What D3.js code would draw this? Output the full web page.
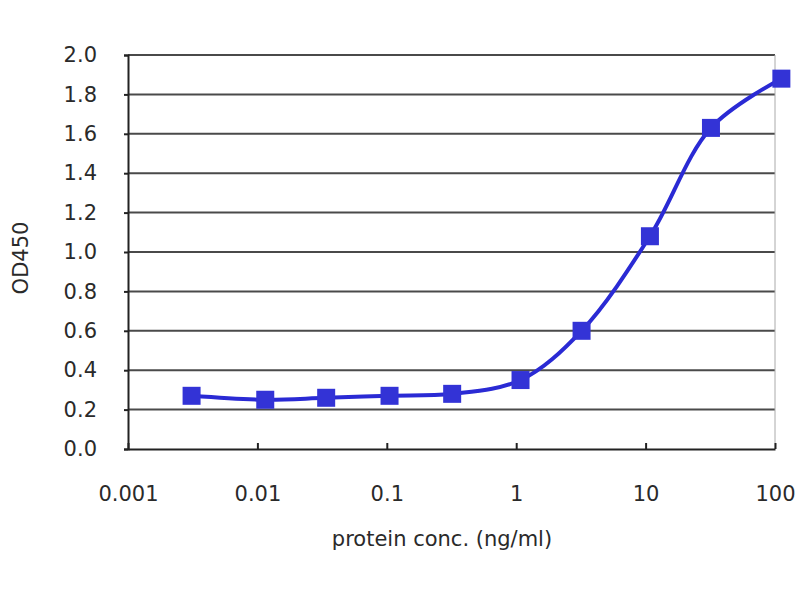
<!DOCTYPE html>
<html>
<head>
<meta charset="utf-8">
<script src="https://cdn.jsdelivr.net/npm/d3@7"></script>
<style>
  html, body { margin: 0; padding: 0; background: #fff; }
  svg { display: block; }
  text { font-family: "DejaVu Sans", sans-serif; fill: #2a2a2a; }
</style>
</head>
<body>
<svg id="chart" width="800" height="600"></svg>
<script>
// Data
const concentrations = [0.0031, 0.0115, 0.034, 0.105, 0.32, 1.08, 3.2, 10.8, 32, 112];
const od450 = [0.27, 0.25, 0.26, 0.27, 0.28, 0.35, 0.60, 1.08, 1.63, 1.88];
const xTicks = [0.001, 0.01, 0.1, 1, 10, 100];
const xTickLabels = ["0.001", "0.01", "0.1", "1", "10", "100"];
const yTicks = [0.0, 0.2, 0.4, 0.6, 0.8, 1.0, 1.2, 1.4, 1.6, 1.8, 2.0];
const xTitle = "protein conc. (ng/ml)";
const yTitle = "OD450";

const svg = d3.select("#chart");
const margin = { left: 128, right: 25, top: 55, bottom: 151 };
const W = 800, H = 600;
const x = d3.scaleLog().domain([0.001, 100]).range([margin.left, W - margin.right]);
const y = d3.scaleLinear().domain([0, 2]).range([H - margin.bottom, margin.top]);

// gridlines
svg.append("g").selectAll("line").data(yTicks.slice(1)).join("line")
  .attr("x1", x(0.001)).attr("x2", x(100))
  .attr("y1", d => y(d)).attr("y2", d => y(d))
  .attr("stroke", "#4a4a4a").attr("stroke-width", 2);

// right border
svg.append("line").attr("x1", x(100)).attr("x2", x(100))
  .attr("y1", y(2)).attr("y2", y(0)).attr("stroke", "#aaa").attr("stroke-width", 1);

// y axis
const yAxis = d3.axisLeft(y).tickValues(yTicks).tickFormat(d3.format(".1f")).tickSize(4).tickPadding(27);
const gy = svg.append("g").attr("transform", `translate(${x(0.001)},0)`).call(yAxis);
gy.select(".domain").attr("stroke", "#222").attr("stroke-width", 2);
gy.selectAll(".tick line").attr("stroke", "#222").attr("stroke-width", 2);
gy.selectAll(".tick text").style("font-size", "21px").attr("fill", "#2a2a2a");

// x axis
const xAxis = d3.axisBottom(x).tickValues(xTicks).tickFormat((d, i) => xTickLabels[i]).tickSizeInner(-6).tickSizeOuter(0).tickPadding(37);
const gx = svg.append("g").attr("transform", `translate(0,${y(0)})`).call(xAxis);
gx.select(".domain").attr("stroke", "#222").attr("stroke-width", 2);
gx.selectAll(".tick line").attr("stroke", "#222").attr("stroke-width", 2);
gx.selectAll(".tick text").style("font-size", "21px").attr("fill", "#2a2a2a");

// line
const pts = concentrations.map((c, i) => [x(c), y(od450[i])]);
svg.append("path").datum(pts)
  .attr("d", d3.line().curve(d3.curveCatmullRom.alpha(0.5)))
  .attr("fill", "none").attr("stroke", "#2a2ad4").attr("stroke-width", 4);

// markers
const ms = 18;
svg.append("g").selectAll("rect").data(pts).join("rect")
  .attr("x", d => d[0] - ms / 2).attr("y", d => d[1] - ms / 2)
  .attr("width", ms).attr("height", ms)
  .attr("fill", "#3333d6");

// titles
svg.append("text").attr("x", 442).attr("y", 546).attr("text-anchor", "middle")
  .style("font-size", "21px").text(xTitle);
svg.append("text").attr("transform", "translate(28,258) rotate(-90)").attr("text-anchor", "middle")
  .style("font-size", "21px").text(yTitle);
</script>
</body>
</html>
